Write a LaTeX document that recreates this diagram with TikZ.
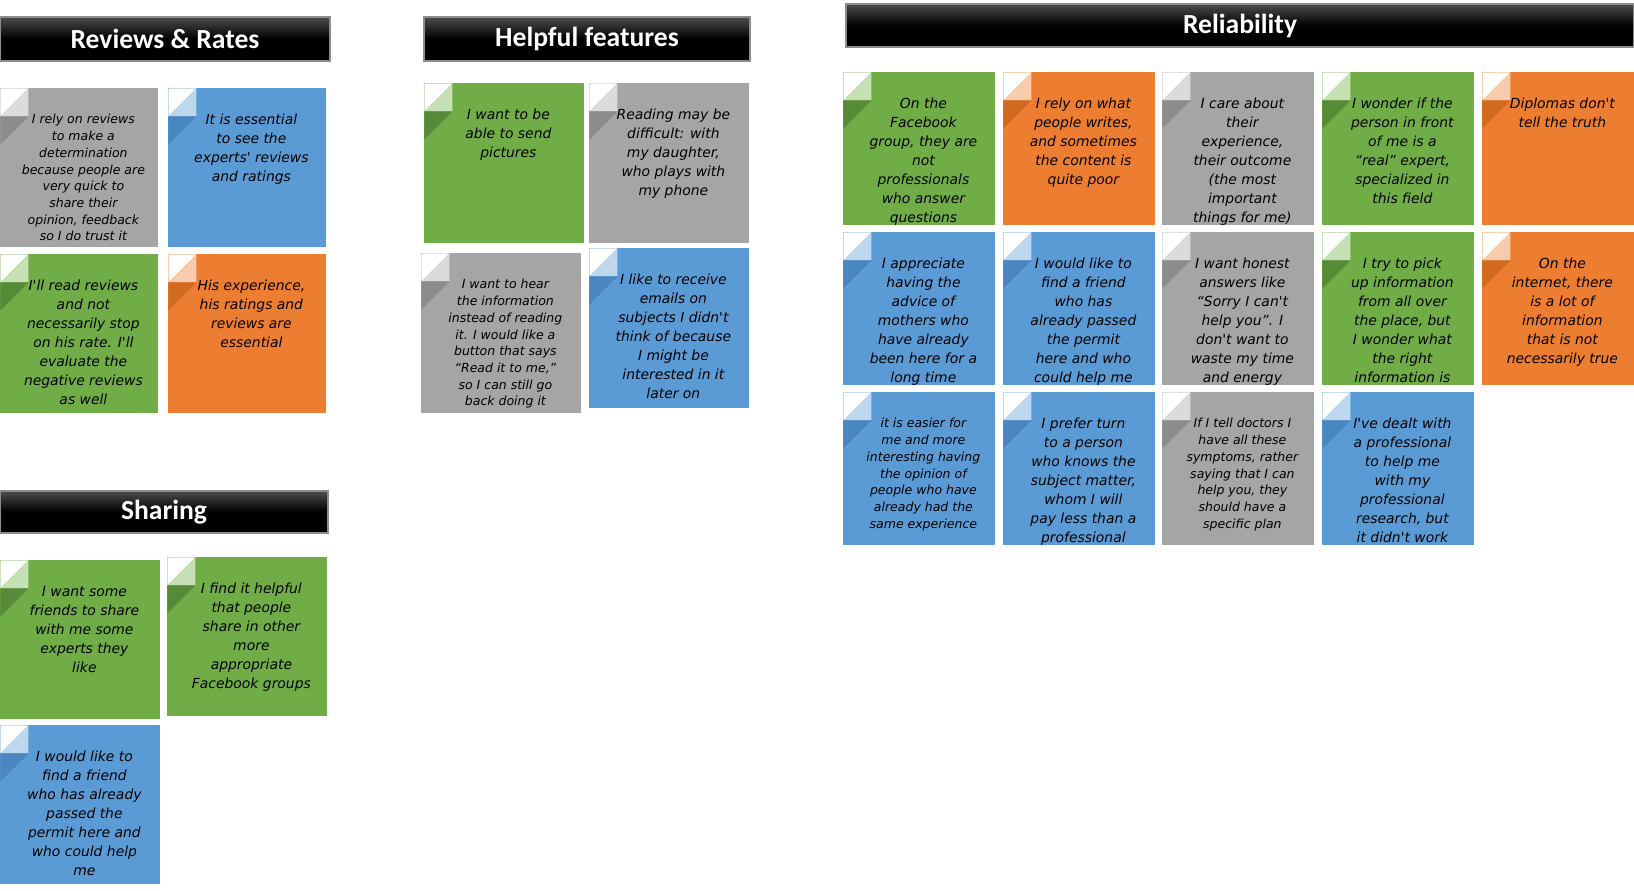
\documentclass[tikz,border=0pt]{standalone}
\usepackage{fontspec}
\newfontfamily\hdrfont{Carlito}
\newfontfamily\notefont{DejaVu Sans}
\definecolor{ngreen}{HTML}{70AD47}
\definecolor{ngreenL}{HTML}{C5E0B4}
\definecolor{ngreenD}{HTML}{578A38}
\definecolor{norange}{HTML}{ED7D31}
\definecolor{norangeL}{HTML}{F8CBAD}
\definecolor{norangeD}{HTML}{D26A22}
\definecolor{nblue}{HTML}{5B9BD5}
\definecolor{nblueL}{HTML}{BDD7EE}
\definecolor{nblueD}{HTML}{4A86C0}
\definecolor{ngray}{HTML}{A5A5A5}
\definecolor{ngrayL}{HTML}{DBDBDB}
\definecolor{ngrayD}{HTML}{8C8C8C}
\newcommand{\sticky}[5]{%
  \node[note=#3] (#1) at (#2) {};
  \node[#4] (#1-t) at ([xshift=2pt,yshift=-13pt]#1.north) {#5};}

\begin{document}
\begin{tikzpicture}[x=0.5pt,y=-0.5pt,
 notesize/.style={minimum width=76pt,minimum height=76.5pt},
 note/.style={anchor=north west,inner sep=0,fill=#1,notesize,path picture={
  \fill[white] (path picture bounding box.north west) -- ++(14pt,0) -- ++(-14pt,-14pt) -- cycle;
  \fill[#1L] ([xshift=14pt]path picture bounding box.north west) -- ++(-14pt,-14pt) -- ++(14pt,0) -- cycle;
  \fill[#1D] ([yshift=-14pt]path picture bounding box.north west) -- ++(14pt,0) -- ++(-14pt,-14pt) -- cycle;}},
 nt/.style={anchor=north,inner sep=0,align=center,font=\notefont\itshape\fontsize{6.95pt}{9.5pt}\selectfont},
 ns/.style={nt,font=\notefont\itshape\fontsize{6.25pt}{8.35pt}\selectfont},
 hdr/.style={draw=black!45,line width=0.6pt,top color=black!70,bottom color=black,middle color=black,
  text=white,font=\hdrfont\bfseries\fontsize{13.8pt}{15pt}\selectfont,minimum height=22pt,inner sep=0}]
\useasboundingbox (0,0) rectangle (1634,890);

\node[hdr,minimum width=165pt] (rev) at (165,39) {Reviews \& Rates};
\node[hdr,minimum width=163pt] (help) at (587,39) {Helpful features};
\node[hdr,minimum width=164pt,minimum height=21pt] (share) at (164,512) {Sharing};
\node[hdr,minimum width=394pt,minimum height=21.5pt] (rel) at (1240,25.5) {Reliability};

\begin{scope}[notesize/.style={minimum width=79pt,minimum height=79.5pt}]
\sticky{rv1}{0,88}{ngray}{ns}{I rely on reviews\\to make a\\determination\\because people are\\very quick to\\share their\\opinion, feedback\\so I do trust it}
\sticky{rv2}{168,88}{nblue}{nt}{It is essential\\to see the\\experts' reviews\\and ratings}
\sticky{rv3}{0,254}{ngreen}{nt}{I'll read reviews\\and not\\necessarily stop\\on his rate. I'll\\evaluate the\\negative reviews\\as well}
\sticky{rv4}{168,254}{norange}{nt}{His experience,\\his ratings and\\reviews are\\essential}
\end{scope}

\begin{scope}[notesize/.style={minimum width=80pt,minimum height=80pt}]
\sticky{hf1}{424,83}{ngreen}{nt}{I want to be\\able to send\\pictures}
\sticky{hf2}{589,83}{ngray}{nt}{Reading may be\\difficult: with\\my daughter,\\who plays with\\my phone}
\sticky{hf3}{421,253}{ngray}{ns}{I want to hear\\the information\\instead of reading\\it. I would like a\\button that says\\“Read it to me,”\\so I can still go\\back doing it}
\sticky{hf4}{589,248}{nblue}{nt}{I like to receive\\emails on\\subjects I didn't\\think of because\\I might be\\interested in it\\later on}
\end{scope}

\begin{scope}[notesize/.style={minimum width=80pt,minimum height=79.5pt}]
\sticky{sh1}{0,560}{ngreen}{nt}{I want some\\friends to share\\with me some\\experts they\\like}
\sticky{sh2}{167,557}{ngreen}{nt}{I find it helpful\\that people\\share in other\\more\\appropriate\\Facebook groups}
\sticky{sh3}{0,725}{nblue}{nt}{I would like to\\find a friend\\who has already\\passed the\\permit here and\\who could help\\me}
\end{scope}

\sticky{rl1}{843,72}{ngreen}{nt}{On the\\Facebook\\group, they are\\not\\professionals\\who answer\\questions}
\sticky{rl2}{1003,72}{norange}{nt}{I rely on what\\people writes,\\and sometimes\\the content is\\quite poor}
\sticky{rl3}{1162,72}{ngray}{nt}{I care about\\their\\experience,\\their outcome\\(the most\\important\\things for me)}
\sticky{rl4}{1322,72}{ngreen}{nt}{I wonder if the\\person in front\\of me is a\\“real” expert,\\specialized in\\this field}
\sticky{rl5}{1482,72}{norange}{nt}{Diplomas don't\\tell the truth}
\sticky{rl6}{843,232}{nblue}{nt}{I appreciate\\having the\\advice of\\mothers who\\have already\\been here for a\\long time}
\sticky{rl7}{1003,232}{nblue}{nt}{I would like to\\find a friend\\who has\\already passed\\the permit\\here and who\\could help me}
\sticky{rl8}{1162,232}{ngray}{nt}{I want honest\\answers like\\“Sorry I can't\\help you”. I\\don't want to\\waste my time\\and energy}
\sticky{rl9}{1322,232}{ngreen}{nt}{I try to pick\\up information\\from all over\\the place, but\\I wonder what\\the right\\information is}
\sticky{rl10}{1482,232}{norange}{nt}{On the\\internet, there\\is a lot of\\information\\that is not\\necessarily true}
\sticky{rl11}{843,392}{nblue}{ns}{it is easier for\\me and more\\interesting having\\the opinion of\\people who have\\already had the\\same experience}
\sticky{rl12}{1003,392}{nblue}{nt}{I prefer turn\\to a person\\who knows the\\subject matter,\\whom I will\\pay less than a\\professional}
\sticky{rl13}{1162,392}{ngray}{ns}{If I tell doctors I\\have all these\\symptoms, rather\\saying that I can\\help you, they\\should have a\\specific plan}
\sticky{rl14}{1322,392}{nblue}{nt}{I've dealt with\\a professional\\to help me\\with my\\professional\\research, but\\it didn't work}
\end{tikzpicture}
\end{document}
